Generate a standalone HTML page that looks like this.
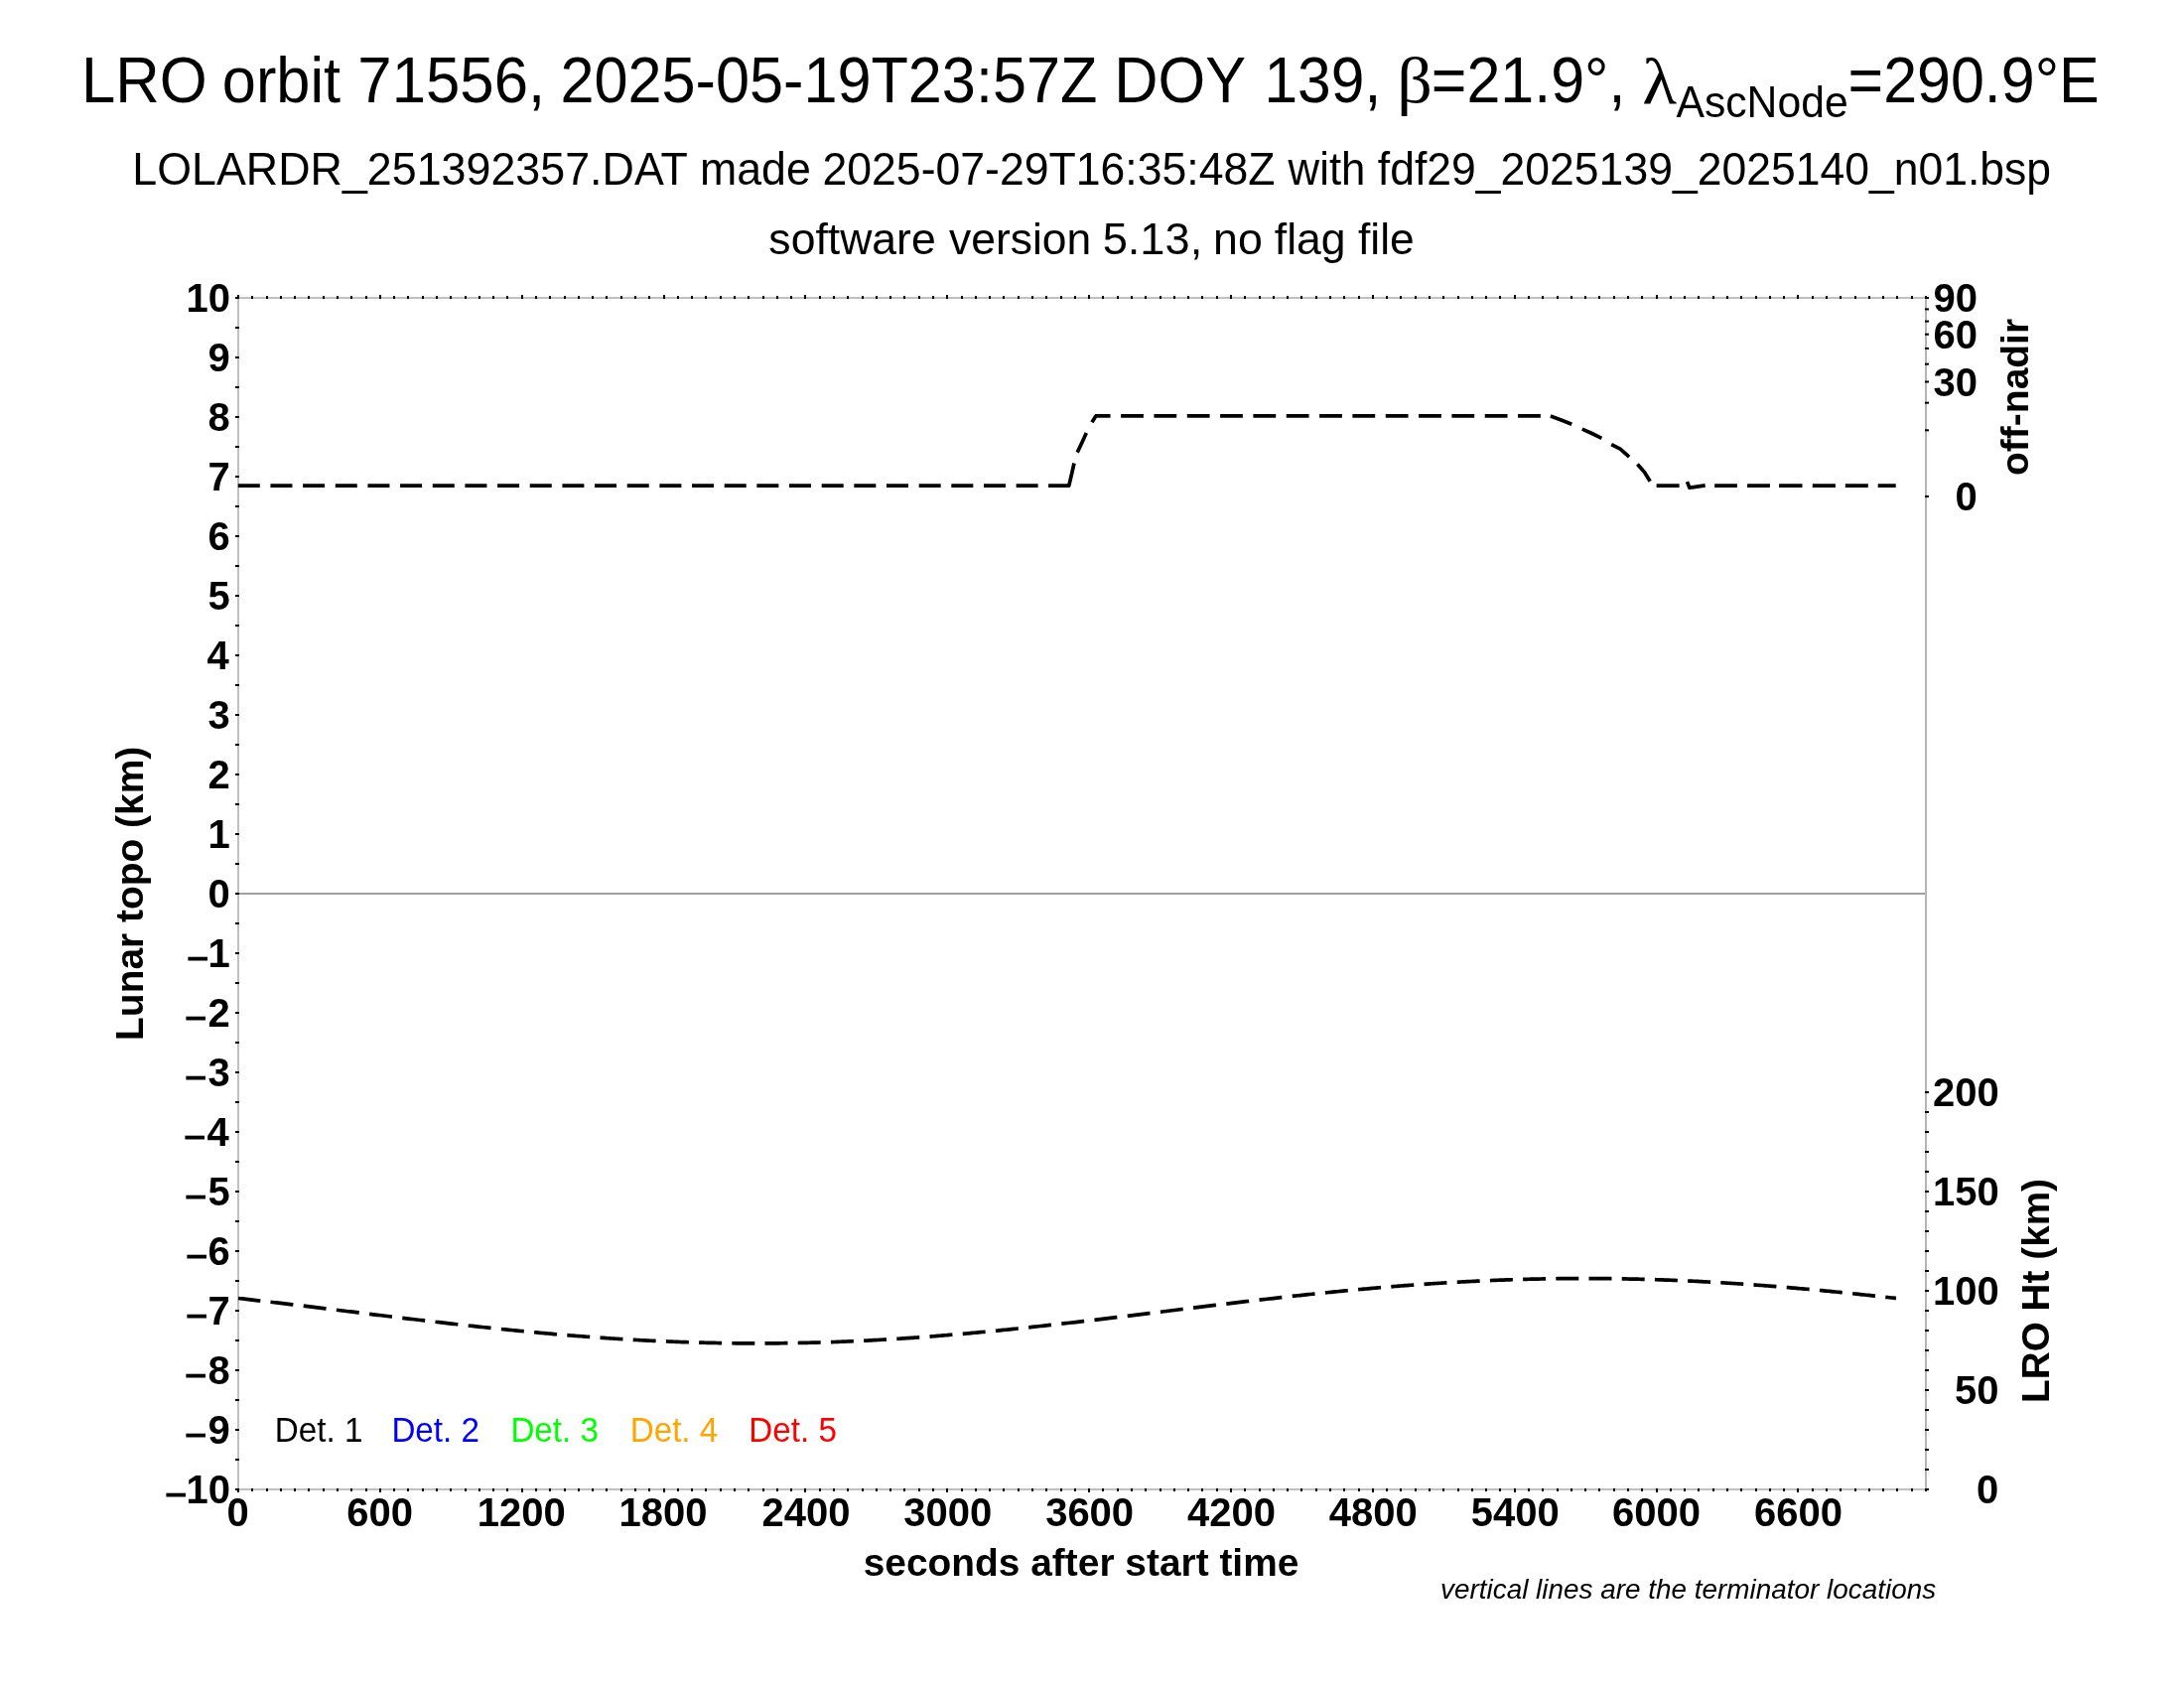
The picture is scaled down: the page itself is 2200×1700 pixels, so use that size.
<!DOCTYPE html>
<html><head><meta charset="utf-8"><style>html,body{margin:0;padding:0;background:#fff;}svg{display:block;will-change:transform;}</style></head>
<body><svg width="2200" height="1700" viewBox="0 0 2200 1700">
<rect width="2200" height="1700" fill="#fff"/>
<rect x='239' y='299' width='1701' height='2' fill='#c0c0c0'/>
<rect x='239' y='1499' width='1702' height='2' fill='#c0c0c0'/>
<rect x='239' y='299' width='2' height='1202' fill='#c0c0c0'/>
<rect x='1939' y='299' width='2' height='1202' fill='#b4b4b4'/>
<rect x='241' y='899' width='1698' height='2' fill='#a0a0a0'/>
<g fill='#000'><rect x='239' y='1499' width='2' height='4'/><rect x='239' y='297' width='2' height='4'/><rect x='253' y='1499' width='2' height='3'/><rect x='253' y='298' width='2' height='3'/><rect x='268' y='1499' width='2' height='3'/><rect x='268' y='298' width='2' height='3'/><rect x='282' y='1499' width='2' height='3'/><rect x='282' y='298' width='2' height='3'/><rect x='296' y='1499' width='2' height='3'/><rect x='296' y='298' width='2' height='3'/><rect x='310' y='1499' width='2' height='3'/><rect x='310' y='298' width='2' height='3'/><rect x='325' y='1499' width='2' height='3'/><rect x='325' y='298' width='2' height='3'/><rect x='339' y='1499' width='2' height='3'/><rect x='339' y='298' width='2' height='3'/><rect x='353' y='1499' width='2' height='3'/><rect x='353' y='298' width='2' height='3'/><rect x='368' y='1499' width='2' height='3'/><rect x='368' y='298' width='2' height='3'/><rect x='382' y='1499' width='2' height='4'/><rect x='382' y='297' width='2' height='4'/><rect x='396' y='1499' width='2' height='3'/><rect x='396' y='298' width='2' height='3'/><rect x='410' y='1499' width='2' height='3'/><rect x='410' y='298' width='2' height='3'/><rect x='425' y='1499' width='2' height='3'/><rect x='425' y='298' width='2' height='3'/><rect x='439' y='1499' width='2' height='3'/><rect x='439' y='298' width='2' height='3'/><rect x='453' y='1499' width='2' height='3'/><rect x='453' y='298' width='2' height='3'/><rect x='468' y='1499' width='2' height='3'/><rect x='468' y='298' width='2' height='3'/><rect x='482' y='1499' width='2' height='3'/><rect x='482' y='298' width='2' height='3'/><rect x='496' y='1499' width='2' height='3'/><rect x='496' y='298' width='2' height='3'/><rect x='510' y='1499' width='2' height='3'/><rect x='510' y='298' width='2' height='3'/><rect x='525' y='1499' width='2' height='4'/><rect x='525' y='297' width='2' height='4'/><rect x='539' y='1499' width='2' height='3'/><rect x='539' y='298' width='2' height='3'/><rect x='553' y='1499' width='2' height='3'/><rect x='553' y='298' width='2' height='3'/><rect x='568' y='1499' width='2' height='3'/><rect x='568' y='298' width='2' height='3'/><rect x='582' y='1499' width='2' height='3'/><rect x='582' y='298' width='2' height='3'/><rect x='596' y='1499' width='2' height='3'/><rect x='596' y='298' width='2' height='3'/><rect x='610' y='1499' width='2' height='3'/><rect x='610' y='298' width='2' height='3'/><rect x='625' y='1499' width='2' height='3'/><rect x='625' y='298' width='2' height='3'/><rect x='639' y='1499' width='2' height='3'/><rect x='639' y='298' width='2' height='3'/><rect x='653' y='1499' width='2' height='3'/><rect x='653' y='298' width='2' height='3'/><rect x='668' y='1499' width='2' height='4'/><rect x='668' y='297' width='2' height='4'/><rect x='682' y='1499' width='2' height='3'/><rect x='682' y='298' width='2' height='3'/><rect x='696' y='1499' width='2' height='3'/><rect x='696' y='298' width='2' height='3'/><rect x='710' y='1499' width='2' height='3'/><rect x='710' y='298' width='2' height='3'/><rect x='725' y='1499' width='2' height='3'/><rect x='725' y='298' width='2' height='3'/><rect x='739' y='1499' width='2' height='3'/><rect x='739' y='298' width='2' height='3'/><rect x='753' y='1499' width='2' height='3'/><rect x='753' y='298' width='2' height='3'/><rect x='768' y='1499' width='2' height='3'/><rect x='768' y='298' width='2' height='3'/><rect x='782' y='1499' width='2' height='3'/><rect x='782' y='298' width='2' height='3'/><rect x='796' y='1499' width='2' height='3'/><rect x='796' y='298' width='2' height='3'/><rect x='810' y='1499' width='2' height='4'/><rect x='810' y='297' width='2' height='4'/><rect x='825' y='1499' width='2' height='3'/><rect x='825' y='298' width='2' height='3'/><rect x='839' y='1499' width='2' height='3'/><rect x='839' y='298' width='2' height='3'/><rect x='853' y='1499' width='2' height='3'/><rect x='853' y='298' width='2' height='3'/><rect x='868' y='1499' width='2' height='3'/><rect x='868' y='298' width='2' height='3'/><rect x='882' y='1499' width='2' height='3'/><rect x='882' y='298' width='2' height='3'/><rect x='896' y='1499' width='2' height='3'/><rect x='896' y='298' width='2' height='3'/><rect x='910' y='1499' width='2' height='3'/><rect x='910' y='298' width='2' height='3'/><rect x='925' y='1499' width='2' height='3'/><rect x='925' y='298' width='2' height='3'/><rect x='939' y='1499' width='2' height='3'/><rect x='939' y='298' width='2' height='3'/><rect x='953' y='1499' width='2' height='4'/><rect x='953' y='297' width='2' height='4'/><rect x='968' y='1499' width='2' height='3'/><rect x='968' y='298' width='2' height='3'/><rect x='982' y='1499' width='2' height='3'/><rect x='982' y='298' width='2' height='3'/><rect x='996' y='1499' width='2' height='3'/><rect x='996' y='298' width='2' height='3'/><rect x='1010' y='1499' width='2' height='3'/><rect x='1010' y='298' width='2' height='3'/><rect x='1025' y='1499' width='2' height='3'/><rect x='1025' y='298' width='2' height='3'/><rect x='1039' y='1499' width='2' height='3'/><rect x='1039' y='298' width='2' height='3'/><rect x='1053' y='1499' width='2' height='3'/><rect x='1053' y='298' width='2' height='3'/><rect x='1068' y='1499' width='2' height='3'/><rect x='1068' y='298' width='2' height='3'/><rect x='1082' y='1499' width='2' height='3'/><rect x='1082' y='298' width='2' height='3'/><rect x='1096' y='1499' width='2' height='4'/><rect x='1096' y='297' width='2' height='4'/><rect x='1110' y='1499' width='2' height='3'/><rect x='1110' y='298' width='2' height='3'/><rect x='1125' y='1499' width='2' height='3'/><rect x='1125' y='298' width='2' height='3'/><rect x='1139' y='1499' width='2' height='3'/><rect x='1139' y='298' width='2' height='3'/><rect x='1153' y='1499' width='2' height='3'/><rect x='1153' y='298' width='2' height='3'/><rect x='1168' y='1499' width='2' height='3'/><rect x='1168' y='298' width='2' height='3'/><rect x='1182' y='1499' width='2' height='3'/><rect x='1182' y='298' width='2' height='3'/><rect x='1196' y='1499' width='2' height='3'/><rect x='1196' y='298' width='2' height='3'/><rect x='1210' y='1499' width='2' height='3'/><rect x='1210' y='298' width='2' height='3'/><rect x='1225' y='1499' width='2' height='3'/><rect x='1225' y='298' width='2' height='3'/><rect x='1239' y='1499' width='2' height='4'/><rect x='1239' y='297' width='2' height='4'/><rect x='1253' y='1499' width='2' height='3'/><rect x='1253' y='298' width='2' height='3'/><rect x='1268' y='1499' width='2' height='3'/><rect x='1268' y='298' width='2' height='3'/><rect x='1282' y='1499' width='2' height='3'/><rect x='1282' y='298' width='2' height='3'/><rect x='1296' y='1499' width='2' height='3'/><rect x='1296' y='298' width='2' height='3'/><rect x='1310' y='1499' width='2' height='3'/><rect x='1310' y='298' width='2' height='3'/><rect x='1325' y='1499' width='2' height='3'/><rect x='1325' y='298' width='2' height='3'/><rect x='1339' y='1499' width='2' height='3'/><rect x='1339' y='298' width='2' height='3'/><rect x='1353' y='1499' width='2' height='3'/><rect x='1353' y='298' width='2' height='3'/><rect x='1368' y='1499' width='2' height='3'/><rect x='1368' y='298' width='2' height='3'/><rect x='1382' y='1499' width='2' height='4'/><rect x='1382' y='297' width='2' height='4'/><rect x='1396' y='1499' width='2' height='3'/><rect x='1396' y='298' width='2' height='3'/><rect x='1410' y='1499' width='2' height='3'/><rect x='1410' y='298' width='2' height='3'/><rect x='1425' y='1499' width='2' height='3'/><rect x='1425' y='298' width='2' height='3'/><rect x='1439' y='1499' width='2' height='3'/><rect x='1439' y='298' width='2' height='3'/><rect x='1453' y='1499' width='2' height='3'/><rect x='1453' y='298' width='2' height='3'/><rect x='1468' y='1499' width='2' height='3'/><rect x='1468' y='298' width='2' height='3'/><rect x='1482' y='1499' width='2' height='3'/><rect x='1482' y='298' width='2' height='3'/><rect x='1496' y='1499' width='2' height='3'/><rect x='1496' y='298' width='2' height='3'/><rect x='1510' y='1499' width='2' height='3'/><rect x='1510' y='298' width='2' height='3'/><rect x='1525' y='1499' width='2' height='4'/><rect x='1525' y='297' width='2' height='4'/><rect x='1539' y='1499' width='2' height='3'/><rect x='1539' y='298' width='2' height='3'/><rect x='1553' y='1499' width='2' height='3'/><rect x='1553' y='298' width='2' height='3'/><rect x='1568' y='1499' width='2' height='3'/><rect x='1568' y='298' width='2' height='3'/><rect x='1582' y='1499' width='2' height='3'/><rect x='1582' y='298' width='2' height='3'/><rect x='1596' y='1499' width='2' height='3'/><rect x='1596' y='298' width='2' height='3'/><rect x='1610' y='1499' width='2' height='3'/><rect x='1610' y='298' width='2' height='3'/><rect x='1625' y='1499' width='2' height='3'/><rect x='1625' y='298' width='2' height='3'/><rect x='1639' y='1499' width='2' height='3'/><rect x='1639' y='298' width='2' height='3'/><rect x='1653' y='1499' width='2' height='3'/><rect x='1653' y='298' width='2' height='3'/><rect x='1668' y='1499' width='2' height='4'/><rect x='1668' y='297' width='2' height='4'/><rect x='1682' y='1499' width='2' height='3'/><rect x='1682' y='298' width='2' height='3'/><rect x='1696' y='1499' width='2' height='3'/><rect x='1696' y='298' width='2' height='3'/><rect x='1710' y='1499' width='2' height='3'/><rect x='1710' y='298' width='2' height='3'/><rect x='1725' y='1499' width='2' height='3'/><rect x='1725' y='298' width='2' height='3'/><rect x='1739' y='1499' width='2' height='3'/><rect x='1739' y='298' width='2' height='3'/><rect x='1753' y='1499' width='2' height='3'/><rect x='1753' y='298' width='2' height='3'/><rect x='1768' y='1499' width='2' height='3'/><rect x='1768' y='298' width='2' height='3'/><rect x='1782' y='1499' width='2' height='3'/><rect x='1782' y='298' width='2' height='3'/><rect x='1796' y='1499' width='2' height='3'/><rect x='1796' y='298' width='2' height='3'/><rect x='1810' y='1499' width='2' height='4'/><rect x='1810' y='297' width='2' height='4'/><rect x='1825' y='1499' width='2' height='3'/><rect x='1825' y='298' width='2' height='3'/><rect x='1839' y='1499' width='2' height='3'/><rect x='1839' y='298' width='2' height='3'/><rect x='1853' y='1499' width='2' height='3'/><rect x='1853' y='298' width='2' height='3'/><rect x='1868' y='1499' width='2' height='3'/><rect x='1868' y='298' width='2' height='3'/><rect x='1882' y='1499' width='2' height='3'/><rect x='1882' y='298' width='2' height='3'/><rect x='1896' y='1499' width='2' height='3'/><rect x='1896' y='298' width='2' height='3'/><rect x='1910' y='1499' width='2' height='3'/><rect x='1910' y='298' width='2' height='3'/><rect x='1925' y='1499' width='2' height='3'/><rect x='1925' y='298' width='2' height='3'/><rect x='1939' y='1499' width='2' height='3'/><rect x='1939' y='298' width='2' height='3'/><rect x='237' y='299' width='4' height='2'/><rect x='237' y='329' width='4' height='2'/><rect x='237' y='359' width='4' height='2'/><rect x='237' y='389' width='4' height='2'/><rect x='237' y='419' width='4' height='2'/><rect x='237' y='449' width='4' height='2'/><rect x='237' y='479' width='4' height='2'/><rect x='237' y='509' width='4' height='2'/><rect x='237' y='539' width='4' height='2'/><rect x='237' y='569' width='4' height='2'/><rect x='237' y='599' width='4' height='2'/><rect x='237' y='629' width='4' height='2'/><rect x='237' y='659' width='4' height='2'/><rect x='237' y='689' width='4' height='2'/><rect x='237' y='719' width='4' height='2'/><rect x='237' y='749' width='4' height='2'/><rect x='237' y='779' width='4' height='2'/><rect x='237' y='809' width='4' height='2'/><rect x='237' y='839' width='4' height='2'/><rect x='237' y='869' width='4' height='2'/><rect x='237' y='899' width='4' height='2'/><rect x='237' y='929' width='4' height='2'/><rect x='237' y='959' width='4' height='2'/><rect x='237' y='989' width='4' height='2'/><rect x='237' y='1019' width='4' height='2'/><rect x='237' y='1049' width='4' height='2'/><rect x='237' y='1079' width='4' height='2'/><rect x='237' y='1109' width='4' height='2'/><rect x='237' y='1139' width='4' height='2'/><rect x='237' y='1169' width='4' height='2'/><rect x='237' y='1199' width='4' height='2'/><rect x='237' y='1229' width='4' height='2'/><rect x='237' y='1259' width='4' height='2'/><rect x='237' y='1289' width='4' height='2'/><rect x='237' y='1319' width='4' height='2'/><rect x='237' y='1349' width='4' height='2'/><rect x='237' y='1379' width='4' height='2'/><rect x='237' y='1409' width='4' height='2'/><rect x='237' y='1439' width='4' height='2'/><rect x='237' y='1469' width='4' height='2'/><rect x='237' y='1499' width='4' height='2'/><rect x='1939' y='499.0' width='4' height='2'/><rect x='1939' y='432.3' width='4' height='2'/><rect x='1939' y='404.7' width='4' height='2'/><rect x='1939' y='383.5' width='4' height='2'/><rect x='1939' y='365.7' width='4' height='2'/><rect x='1939' y='349.9' width='4' height='2'/><rect x='1939' y='335.7' width='4' height='2'/><rect x='1939' y='322.6' width='4' height='2'/><rect x='1939' y='310.4' width='4' height='2'/><rect x='1939' y='299.0' width='4' height='2'/><rect x='1939' y='1499' width='4' height='2'/><rect x='1939' y='1479' width='4' height='2'/><rect x='1939' y='1459' width='4' height='2'/><rect x='1939' y='1439' width='4' height='2'/><rect x='1939' y='1419' width='4' height='2'/><rect x='1939' y='1399' width='4' height='2'/><rect x='1939' y='1379' width='4' height='2'/><rect x='1939' y='1359' width='4' height='2'/><rect x='1939' y='1339' width='4' height='2'/><rect x='1939' y='1319' width='4' height='2'/><rect x='1939' y='1299' width='4' height='2'/><rect x='1939' y='1279' width='4' height='2'/><rect x='1939' y='1259' width='4' height='2'/><rect x='1939' y='1239' width='4' height='2'/><rect x='1939' y='1219' width='4' height='2'/><rect x='1939' y='1199' width='4' height='2'/><rect x='1939' y='1179' width='4' height='2'/><rect x='1939' y='1159' width='4' height='2'/><rect x='1939' y='1139' width='4' height='2'/><rect x='1939' y='1119' width='4' height='2'/><rect x='1939' y='1099' width='4' height='2'/></g>
<path d='M239.80,489.20 L261.80,489.20 M272.46,489.20 L294.46,489.20 M305.12,489.20 L327.12,489.20 M337.78,489.20 L359.78,489.20 M370.44,489.20 L392.44,489.20 M403.10,489.20 L425.10,489.20 M435.76,489.20 L457.76,489.20 M468.42,489.20 L490.42,489.20 M501.08,489.20 L523.08,489.20 M533.74,489.20 L555.74,489.20 M566.40,489.20 L588.40,489.20 M599.06,489.20 L621.06,489.20 M631.72,489.20 L653.72,489.20 M664.38,489.20 L686.38,489.20 M697.04,489.20 L719.04,489.20 M729.70,489.20 L751.70,489.20 M762.36,489.20 L784.36,489.20 M795.02,489.20 L817.02,489.20 M827.68,489.20 L849.68,489.20 M860.34,489.20 L882.34,489.20 M893.00,489.20 L915.00,489.20 M925.66,489.20 L947.66,489.20 M958.32,489.20 L980.32,489.20 M990.98,489.20 L1012.98,489.20 M1023.64,489.20 L1045.64,489.20 M1056.10,489.20 L1076.70,489.20 L1078.00,484.00 L1082.00,466.50 M1085.20,455.60 L1090.00,445.50 L1094.30,436.10 M1099.90,425.20 L1103.90,418.90 L1118.50,418.90 M1129.10,418.90 L1151.90,418.90 M1162.43,418.90 L1185.23,418.90 M1195.76,418.90 L1218.56,418.90 M1229.09,418.90 L1251.89,418.90 M1262.42,418.90 L1285.22,418.90 M1295.75,418.90 L1318.55,418.90 M1329.08,418.90 L1351.88,418.90 M1362.41,418.90 L1385.21,418.90 M1395.74,418.90 L1418.54,418.90 M1429.07,418.90 L1451.87,418.90 M1462.40,418.90 L1485.20,418.90 M1495.73,418.90 L1518.53,418.90 M1529.06,418.90 L1551.86,418.90 M1561.90,418.90 L1573.20,423.20 L1583.30,427.30 M1593.80,432.10 L1603.60,436.50 L1613.40,441.30 M1623.20,447.60 L1632.10,452.20 L1641.10,460.10 M1649.40,467.50 L1656.50,475.50 L1662.20,484.80 M1668.60,489.10 L1691.60,489.10 M1727.20,489.10 L1749.90,489.10 M1760.10,489.10 L1782.90,489.10 M1792.10,489.10 L1815.50,489.10 M1825.80,489.10 L1848.90,489.10 M1858.80,489.10 L1881.80,489.10 M1891.70,489.10 L1909.70,489.10 M1699.50,485.20 L1701.80,491.20 L1706.00,490.60 L1717.70,488.90 M240.00,1307.50 L242.00,1307.73 L244.00,1307.96 L246.00,1308.18 L248.00,1308.41 L250.00,1308.64 L252.00,1308.87 L254.00,1309.10 L256.00,1309.33 L258.00,1309.56 L260.00,1309.79 L262.00,1310.02 L262.35,1310.06 M272.50,1311.25 L274.50,1311.48 L276.50,1311.72 L278.50,1311.95 L280.50,1312.19 L282.50,1312.43 L284.50,1312.66 L286.50,1312.90 L288.50,1313.14 L290.50,1313.38 L292.50,1313.62 L294.50,1313.86 L295.34,1313.96 M305.70,1315.21 L307.70,1315.45 L309.70,1315.69 L311.70,1315.93 L313.70,1316.18 L315.70,1316.42 L317.70,1316.66 L319.70,1316.90 L321.70,1317.15 L323.70,1317.39 L325.70,1317.64 L327.70,1317.88 L328.53,1317.98 M338.90,1319.25 L340.90,1319.49 L342.90,1319.74 L344.90,1319.98 L346.90,1320.23 L348.90,1320.47 L350.90,1320.72 L352.90,1320.96 L354.90,1321.21 L356.90,1321.45 L358.90,1321.70 L360.90,1321.94 L361.73,1322.05 M372.10,1323.31 L374.10,1323.56 L376.10,1323.80 L378.10,1324.04 L380.10,1324.29 L382.10,1324.53 L384.10,1324.77 L386.10,1325.02 L388.10,1325.26 L390.10,1325.50 L392.10,1325.74 L394.10,1325.99 L394.93,1326.09 M405.30,1327.33 L407.30,1327.57 L409.30,1327.81 L411.30,1328.05 L413.30,1328.29 L415.30,1328.53 L417.30,1328.76 L419.30,1329.00 L421.30,1329.24 L423.30,1329.47 L425.30,1329.71 L427.30,1329.94 L428.14,1330.04 M438.50,1331.25 L440.50,1331.48 L442.50,1331.71 L444.50,1331.94 L446.50,1332.17 L448.50,1332.40 L450.50,1332.63 L452.50,1332.85 L454.50,1333.08 L456.50,1333.30 L458.50,1333.53 L460.50,1333.75 L461.35,1333.85 M471.70,1335.00 L473.70,1335.22 L475.70,1335.43 L477.70,1335.65 L479.70,1335.87 L481.70,1336.08 L483.70,1336.30 L485.70,1336.51 L487.70,1336.73 L489.70,1336.94 L491.70,1337.15 L493.70,1337.36 L494.57,1337.45 M504.90,1338.52 L506.90,1338.72 L508.90,1338.92 L510.90,1339.13 L512.90,1339.33 L514.90,1339.53 L516.90,1339.72 L518.90,1339.92 L520.90,1340.12 L522.90,1340.31 L524.90,1340.51 L526.90,1340.70 L527.79,1340.79 M538.10,1341.76 L540.10,1341.94 L542.10,1342.13 L544.10,1342.31 L546.10,1342.49 L548.10,1342.67 L550.10,1342.85 L552.10,1343.03 L554.10,1343.20 L556.10,1343.38 L558.10,1343.55 L560.10,1343.72 L561.01,1343.80 M571.30,1344.66 L573.30,1344.83 L575.30,1344.99 L577.30,1345.15 L579.30,1345.31 L581.30,1345.47 L583.30,1345.62 L585.30,1345.78 L587.30,1345.93 L589.30,1346.08 L591.30,1346.23 L593.30,1346.38 L594.23,1346.45 M604.50,1347.19 L606.50,1347.33 L608.50,1347.46 L610.50,1347.60 L612.50,1347.73 L614.50,1347.87 L616.50,1348.00 L618.50,1348.13 L620.50,1348.26 L622.50,1348.38 L624.50,1348.51 L626.50,1348.63 L627.45,1348.69 M637.70,1349.29 L639.70,1349.40 L641.70,1349.51 L643.70,1349.62 L645.70,1349.73 L647.70,1349.83 L649.70,1349.94 L651.70,1350.04 L653.70,1350.14 L655.70,1350.24 L657.70,1350.34 L659.70,1350.43 L660.67,1350.48 M670.90,1350.93 L672.90,1351.02 L674.90,1351.10 L676.90,1351.18 L678.90,1351.26 L680.90,1351.34 L682.90,1351.41 L684.90,1351.48 L686.90,1351.55 L688.90,1351.62 L690.90,1351.69 L692.90,1351.76 L693.88,1351.79 M704.10,1352.09 L706.10,1352.15 L708.10,1352.20 L710.10,1352.25 L712.10,1352.30 L714.10,1352.35 L716.10,1352.39 L718.10,1352.43 L720.10,1352.47 L722.10,1352.51 L724.10,1352.55 L726.10,1352.59 L727.09,1352.60 M737.30,1352.75 L739.30,1352.77 L741.30,1352.79 L743.30,1352.81 L745.30,1352.83 L747.30,1352.85 L749.30,1352.86 L751.30,1352.87 L753.30,1352.88 L755.30,1352.89 L757.30,1352.90 L759.30,1352.90 L760.30,1352.90 M770.50,1352.89 L772.50,1352.88 L774.50,1352.87 L776.50,1352.86 L778.50,1352.85 L780.50,1352.83 L782.50,1352.81 L784.50,1352.79 L786.50,1352.77 L788.50,1352.75 L790.50,1352.72 L792.50,1352.70 L793.50,1352.68 M803.70,1352.51 L805.70,1352.47 L807.70,1352.43 L809.70,1352.39 L811.70,1352.34 L813.70,1352.30 L815.70,1352.25 L817.70,1352.20 L819.70,1352.14 L821.70,1352.09 L823.70,1352.03 L825.70,1351.98 L826.69,1351.95 M836.90,1351.62 L838.90,1351.55 L840.90,1351.48 L842.90,1351.40 L844.90,1351.33 L846.90,1351.25 L848.90,1351.17 L850.90,1351.09 L852.90,1351.01 L854.90,1350.92 L856.90,1350.84 L858.90,1350.75 L859.88,1350.71 M870.10,1350.23 L872.10,1350.13 L874.10,1350.03 L876.10,1349.92 L878.10,1349.82 L880.10,1349.71 L882.10,1349.61 L884.10,1349.50 L886.10,1349.39 L888.10,1349.27 L890.10,1349.16 L892.10,1349.04 L893.07,1348.98 M903.30,1348.36 L905.30,1348.23 L907.30,1348.10 L909.30,1347.97 L911.30,1347.84 L913.30,1347.71 L915.30,1347.57 L917.30,1347.44 L919.30,1347.30 L921.30,1347.16 L923.30,1347.02 L925.30,1346.87 L926.25,1346.81 M936.50,1346.05 L938.50,1345.89 L940.50,1345.74 L942.50,1345.58 L944.50,1345.42 L946.50,1345.27 L948.50,1345.11 L950.50,1344.94 L952.50,1344.78 L954.50,1344.62 L956.50,1344.45 L958.50,1344.28 L959.43,1344.21 M969.70,1343.32 L971.70,1343.15 L973.70,1342.97 L975.70,1342.79 L977.70,1342.61 L979.70,1342.43 L981.70,1342.24 L983.70,1342.06 L985.70,1341.88 L987.70,1341.69 L989.70,1341.50 L991.70,1341.31 L992.60,1341.23 M1002.90,1340.23 L1004.90,1340.04 L1006.90,1339.84 L1008.90,1339.64 L1010.90,1339.44 L1012.90,1339.24 L1014.90,1339.04 L1016.90,1338.83 L1018.90,1338.63 L1020.90,1338.42 L1022.90,1338.22 L1024.90,1338.01 L1025.78,1337.92 M1036.10,1336.83 L1038.10,1336.62 L1040.10,1336.40 L1042.10,1336.18 L1044.10,1335.97 L1046.10,1335.75 L1048.10,1335.53 L1050.10,1335.31 L1052.10,1335.09 L1054.10,1334.87 L1056.10,1334.65 L1058.10,1334.43 L1058.96,1334.33 M1069.30,1333.17 L1071.30,1332.94 L1073.30,1332.71 L1075.30,1332.48 L1077.30,1332.25 L1079.30,1332.02 L1081.30,1331.79 L1083.30,1331.56 L1085.30,1331.32 L1087.30,1331.09 L1089.30,1330.86 L1091.30,1330.62 L1092.15,1330.52 M1102.50,1329.30 L1104.50,1329.06 L1106.50,1328.82 L1108.50,1328.59 L1110.50,1328.35 L1112.50,1328.11 L1114.50,1327.87 L1116.50,1327.63 L1118.50,1327.38 L1120.50,1327.14 L1122.50,1326.90 L1124.50,1326.66 L1125.34,1326.56 M1135.70,1325.30 L1137.70,1325.05 L1139.70,1324.81 L1141.70,1324.56 L1143.70,1324.32 L1145.70,1324.07 L1147.70,1323.83 L1149.70,1323.58 L1151.70,1323.34 L1153.70,1323.09 L1155.70,1322.84 L1157.70,1322.60 L1158.53,1322.50 M1168.90,1321.22 L1170.90,1320.97 L1172.90,1320.72 L1174.90,1320.48 L1176.90,1320.23 L1178.90,1319.98 L1180.90,1319.74 L1182.90,1319.49 L1184.90,1319.24 L1186.90,1319.00 L1188.90,1318.75 L1190.90,1318.50 L1191.73,1318.40 M1202.10,1317.13 L1204.10,1316.88 L1206.10,1316.64 L1208.10,1316.39 L1210.10,1316.15 L1212.10,1315.90 L1214.10,1315.66 L1216.10,1315.41 L1218.10,1315.17 L1220.10,1314.93 L1222.10,1314.68 L1224.10,1314.44 L1224.93,1314.34 M1235.30,1313.09 L1237.30,1312.85 L1239.30,1312.61 L1241.30,1312.37 L1243.30,1312.13 L1245.30,1311.89 L1247.30,1311.66 L1249.30,1311.42 L1251.30,1311.18 L1253.30,1310.95 L1255.30,1310.71 L1257.30,1310.48 L1258.14,1310.38 M1268.50,1309.17 L1270.50,1308.94 L1272.50,1308.71 L1274.50,1308.48 L1276.50,1308.25 L1278.50,1308.02 L1280.50,1307.79 L1282.50,1307.57 L1284.50,1307.34 L1286.50,1307.11 L1288.50,1306.89 L1290.50,1306.67 L1291.35,1306.57 M1301.70,1305.43 L1303.70,1305.21 L1305.70,1304.99 L1307.70,1304.77 L1309.70,1304.56 L1311.70,1304.34 L1313.70,1304.13 L1315.70,1303.92 L1317.70,1303.70 L1319.70,1303.49 L1321.70,1303.28 L1323.70,1303.07 L1324.57,1302.98 M1334.90,1301.92 L1336.90,1301.72 L1338.90,1301.51 L1340.90,1301.31 L1342.90,1301.11 L1344.90,1300.92 L1346.90,1300.72 L1348.90,1300.52 L1350.90,1300.33 L1352.90,1300.13 L1354.90,1299.94 L1356.90,1299.75 L1357.79,1299.66 M1368.10,1298.70 L1370.10,1298.52 L1372.10,1298.33 L1374.10,1298.15 L1376.10,1297.97 L1378.10,1297.79 L1380.10,1297.62 L1382.10,1297.44 L1384.10,1297.26 L1386.10,1297.09 L1388.10,1296.92 L1390.10,1296.75 L1391.01,1296.67 M1401.30,1295.82 L1403.30,1295.65 L1405.30,1295.49 L1407.30,1295.33 L1409.30,1295.18 L1411.30,1295.02 L1413.30,1294.87 L1415.30,1294.71 L1417.30,1294.56 L1419.30,1294.41 L1421.30,1294.26 L1423.30,1294.11 L1424.23,1294.04 M1434.50,1293.31 L1436.50,1293.18 L1438.50,1293.04 L1440.50,1292.90 L1442.50,1292.77 L1444.50,1292.64 L1446.50,1292.51 L1448.50,1292.38 L1450.50,1292.25 L1452.50,1292.13 L1454.50,1292.00 L1456.50,1291.88 L1457.45,1291.82 M1467.70,1291.23 L1469.70,1291.12 L1471.70,1291.01 L1473.70,1290.90 L1475.70,1290.79 L1477.70,1290.69 L1479.70,1290.58 L1481.70,1290.48 L1483.70,1290.38 L1485.70,1290.28 L1487.70,1290.19 L1489.70,1290.09 L1490.67,1290.05 M1500.90,1289.59 L1502.90,1289.51 L1504.90,1289.42 L1506.90,1289.34 L1508.90,1289.26 L1510.90,1289.19 L1512.90,1289.11 L1514.90,1289.04 L1516.90,1288.97 L1518.90,1288.90 L1520.90,1288.83 L1522.90,1288.76 L1523.88,1288.73 M1534.10,1288.42 L1536.10,1288.37 L1538.10,1288.32 L1540.10,1288.26 L1542.10,1288.22 L1544.10,1288.17 L1546.10,1288.12 L1548.10,1288.08 L1550.10,1288.04 L1552.10,1287.99 L1554.10,1287.96 L1556.10,1287.92 L1557.09,1287.90 M1567.30,1287.75 L1569.30,1287.72 L1571.30,1287.70 L1573.30,1287.68 L1575.30,1287.66 L1577.30,1287.64 L1579.30,1287.62 L1581.30,1287.61 L1583.30,1287.60 L1585.30,1287.59 L1587.30,1287.58 L1589.30,1287.57 L1590.30,1287.57 M1600.50,1287.56 L1602.50,1287.57 L1604.50,1287.58 L1606.50,1287.59 L1608.50,1287.60 L1610.50,1287.61 L1612.50,1287.62 L1614.50,1287.64 L1616.50,1287.66 L1618.50,1287.68 L1620.50,1287.70 L1622.50,1287.72 L1623.50,1287.73 M1633.70,1287.88 L1635.70,1287.92 L1637.70,1287.96 L1639.70,1287.99 L1641.70,1288.03 L1643.70,1288.08 L1645.70,1288.12 L1647.70,1288.17 L1649.70,1288.21 L1651.70,1288.26 L1653.70,1288.31 L1655.70,1288.37 L1656.69,1288.39 M1666.90,1288.70 L1668.90,1288.76 L1670.90,1288.83 L1672.90,1288.89 L1674.90,1288.96 L1676.90,1289.04 L1678.90,1289.11 L1680.90,1289.18 L1682.90,1289.26 L1684.90,1289.34 L1686.90,1289.42 L1688.90,1289.50 L1689.88,1289.54 M1700.10,1289.99 L1702.10,1290.08 L1704.10,1290.18 L1706.10,1290.27 L1708.10,1290.37 L1710.10,1290.47 L1712.10,1290.57 L1714.10,1290.68 L1716.10,1290.78 L1718.10,1290.89 L1720.10,1290.99 L1722.10,1291.10 L1723.07,1291.16 M1733.30,1291.75 L1735.30,1291.87 L1737.30,1291.99 L1739.30,1292.11 L1741.30,1292.23 L1743.30,1292.36 L1745.30,1292.49 L1747.30,1292.62 L1749.30,1292.75 L1751.30,1292.88 L1753.30,1293.02 L1755.30,1293.15 L1756.25,1293.22 M1766.50,1293.94 L1768.50,1294.08 L1770.50,1294.23 L1772.50,1294.38 L1774.50,1294.53 L1776.50,1294.68 L1778.50,1294.83 L1780.50,1294.98 L1782.50,1295.14 L1784.50,1295.30 L1786.50,1295.45 L1788.50,1295.61 L1789.43,1295.69 M1799.70,1296.53 L1801.70,1296.70 L1803.70,1296.87 L1805.70,1297.04 L1807.70,1297.21 L1809.70,1297.38 L1811.70,1297.56 L1813.70,1297.74 L1815.70,1297.91 L1817.70,1298.09 L1819.70,1298.27 L1821.70,1298.45 L1822.61,1298.54 M1832.90,1299.49 L1834.90,1299.68 L1836.90,1299.87 L1838.90,1300.06 L1840.90,1300.25 L1842.90,1300.44 L1844.90,1300.64 L1846.90,1300.83 L1848.90,1301.03 L1850.90,1301.23 L1852.90,1301.43 L1854.90,1301.63 L1855.79,1301.72 M1866.10,1302.76 L1868.10,1302.97 L1870.10,1303.18 L1872.10,1303.39 L1874.10,1303.60 L1876.10,1303.81 L1878.10,1304.02 L1880.10,1304.23 L1882.10,1304.44 L1884.10,1304.66 L1886.10,1304.87 L1888.10,1305.09 L1888.97,1305.18 M1899.30,1306.31 L1901.30,1306.53 L1903.30,1306.76 L1905.30,1306.98 L1907.30,1307.20 L1909.30,1307.43 L1910.00,1307.50' fill='none' stroke='#000' stroke-width='3.7' stroke-linecap='butt' stroke-linejoin='round'/>
<text transform='translate(81.98,103.30) scale(0.9634,1.0000)' font-family='Liberation Sans' font-size='64' font-weight='normal' font-style='normal' fill='#000' xml:space='preserve'>LRO</text>
<text transform='translate(223.83,103.30) scale(0.9579,1.0000)' font-family='Liberation Sans' font-size='64' font-weight='normal' font-style='normal' fill='#000' xml:space='preserve'>orbit</text>
<text transform='translate(360.31,103.30) scale(0.9647,1.0000)' font-family='Liberation Sans' font-size='64' font-weight='normal' font-style='normal' fill='#000' xml:space='preserve'>71556,</text>
<text transform='translate(564.43,103.30) scale(0.9563,1.0000)' font-family='Liberation Sans' font-size='64' font-weight='normal' font-style='normal' fill='#000' xml:space='preserve'>2025-05-19T23:57Z</text>
<text transform='translate(1122.31,103.30) scale(0.9576,1.0000)' font-family='Liberation Sans' font-size='64' font-weight='normal' font-style='normal' fill='#000' xml:space='preserve'>DOY</text>
<text transform='translate(1273.47,103.30) scale(0.9456,1.0000)' font-family='Liberation Sans' font-size='64' font-weight='normal' font-style='normal' fill='#000' xml:space='preserve'>139,</text>
<text transform='translate(1407.33,102.78) scale(1.0923,1.0085)' font-family='Liberation Serif' font-size='64' font-weight='normal' font-style='normal' fill='#000' xml:space='preserve'>β</text>
<text transform='translate(1441.84,103.30) scale(0.9528,1.0000)' font-family='Liberation Sans' font-size='64' font-weight='normal' font-style='normal' fill='#000' xml:space='preserve'>=21.9°,</text>
<text transform='translate(1654.26,103.50) scale(1.1207,1.0178)' font-family='Liberation Serif' font-size='64' font-weight='normal' font-style='normal' fill='#000' xml:space='preserve'>λ</text>
<text transform='translate(1688.50,117.80) scale(0.9701,1.0000)' font-family='Liberation Sans' font-size='44' font-weight='normal' font-style='normal' fill='#000' xml:space='preserve'>AscNode</text>
<text transform='translate(1861.54,103.30) scale(0.9523,1.0000)' font-family='Liberation Sans' font-size='64' font-weight='normal' font-style='normal' fill='#000' xml:space='preserve'>=290.9°E</text>
<text transform='translate(133.30,186.00) scale(0.9742,1.0156)' font-family='Liberation Sans' font-size='46' font-weight='normal' font-style='normal' fill='#000' xml:space='preserve'>LOLARDR_251392357.DAT</text>
<text transform='translate(705.09,186.00) scale(0.9709,1.0156)' font-family='Liberation Sans' font-size='46' font-weight='normal' font-style='normal' fill='#000' xml:space='preserve'>made</text>
<text transform='translate(828.46,186.00) scale(0.9692,1.0156)' font-family='Liberation Sans' font-size='46' font-weight='normal' font-style='normal' fill='#000' xml:space='preserve'>2025-07-29T16:35:48Z</text>
<text transform='translate(1297.60,186.00) scale(0.9506,1.0156)' font-family='Liberation Sans' font-size='46' font-weight='normal' font-style='normal' fill='#000' xml:space='preserve'>with</text>
<text transform='translate(1387.83,186.00) scale(0.9679,1.0156)' font-family='Liberation Sans' font-size='46' font-weight='normal' font-style='normal' fill='#000' xml:space='preserve'>fdf29_2025139_2025140_n01.bsp</text>
<text transform='translate(774.36,255.80) scale(0.9682,0.9559)' font-family='Liberation Sans' font-size='46' font-weight='normal' font-style='normal' fill='#000' xml:space='preserve'>software</text>
<text transform='translate(956.10,255.80) scale(0.9648,0.9559)' font-family='Liberation Sans' font-size='46' font-weight='normal' font-style='normal' fill='#000' xml:space='preserve'>version</text>
<text transform='translate(1110.63,255.80) scale(0.9833,0.9559)' font-family='Liberation Sans' font-size='46' font-weight='normal' font-style='normal' fill='#000' xml:space='preserve'>5.13,</text>
<text transform='translate(1222.08,255.80) scale(0.9717,0.9559)' font-family='Liberation Sans' font-size='46' font-weight='normal' font-style='normal' fill='#000' xml:space='preserve'>no</text>
<text transform='translate(1283.83,255.80) scale(0.9686,0.9559)' font-family='Liberation Sans' font-size='46' font-weight='normal' font-style='normal' fill='#000' xml:space='preserve'>flag</text>
<text transform='translate(1368.04,255.80) scale(0.9643,0.9559)' font-family='Liberation Sans' font-size='46' font-weight='normal' font-style='normal' fill='#000' xml:space='preserve'>file</text>
<text transform='translate(187.40,314.20) scale(1.0000,1.0000)' font-family='Liberation Sans' font-size='40' font-weight='bold' font-style='normal' fill='#000' xml:space='preserve'>10</text>
<text transform='translate(209.40,374.20) scale(1.0000,1.0000)' font-family='Liberation Sans' font-size='40' font-weight='bold' font-style='normal' fill='#000' xml:space='preserve'>9</text>
<text transform='translate(209.40,434.20) scale(1.0000,1.0000)' font-family='Liberation Sans' font-size='40' font-weight='bold' font-style='normal' fill='#000' xml:space='preserve'>8</text>
<text transform='translate(209.40,494.20) scale(1.0000,1.0000)' font-family='Liberation Sans' font-size='40' font-weight='bold' font-style='normal' fill='#000' xml:space='preserve'>7</text>
<text transform='translate(209.40,554.20) scale(1.0000,1.0000)' font-family='Liberation Sans' font-size='40' font-weight='bold' font-style='normal' fill='#000' xml:space='preserve'>6</text>
<text transform='translate(209.40,614.20) scale(1.0000,1.0000)' font-family='Liberation Sans' font-size='40' font-weight='bold' font-style='normal' fill='#000' xml:space='preserve'>5</text>
<text transform='translate(208.40,674.20) scale(1.0000,1.0000)' font-family='Liberation Sans' font-size='40' font-weight='bold' font-style='normal' fill='#000' xml:space='preserve'>4</text>
<text transform='translate(209.40,734.20) scale(1.0000,1.0000)' font-family='Liberation Sans' font-size='40' font-weight='bold' font-style='normal' fill='#000' xml:space='preserve'>3</text>
<text transform='translate(209.40,794.20) scale(1.0000,1.0000)' font-family='Liberation Sans' font-size='40' font-weight='bold' font-style='normal' fill='#000' xml:space='preserve'>2</text>
<text transform='translate(209.40,854.20) scale(1.0000,1.0000)' font-family='Liberation Sans' font-size='40' font-weight='bold' font-style='normal' fill='#000' xml:space='preserve'>1</text>
<text transform='translate(209.40,914.20) scale(1.0000,1.0000)' font-family='Liberation Sans' font-size='40' font-weight='bold' font-style='normal' fill='#000' xml:space='preserve'>0</text>
<text transform='translate(209.40,974.20) scale(1.0000,1.0000)' font-family='Liberation Sans' font-size='40' font-weight='bold' font-style='normal' fill='#000' xml:space='preserve'>1</text>
<rect x='189.40' y='963.70' width='19.6' height='3.8' fill='#000'/>
<text transform='translate(209.40,1034.20) scale(1.0000,1.0000)' font-family='Liberation Sans' font-size='40' font-weight='bold' font-style='normal' fill='#000' xml:space='preserve'>2</text>
<rect x='187.40' y='1023.70' width='19.6' height='3.8' fill='#000'/>
<text transform='translate(209.40,1094.20) scale(1.0000,1.0000)' font-family='Liberation Sans' font-size='40' font-weight='bold' font-style='normal' fill='#000' xml:space='preserve'>3</text>
<rect x='187.40' y='1083.70' width='19.6' height='3.8' fill='#000'/>
<text transform='translate(208.40,1154.20) scale(1.0000,1.0000)' font-family='Liberation Sans' font-size='40' font-weight='bold' font-style='normal' fill='#000' xml:space='preserve'>4</text>
<rect x='186.40' y='1143.70' width='19.6' height='3.8' fill='#000'/>
<text transform='translate(209.40,1214.20) scale(1.0000,1.0000)' font-family='Liberation Sans' font-size='40' font-weight='bold' font-style='normal' fill='#000' xml:space='preserve'>5</text>
<rect x='187.40' y='1203.70' width='19.6' height='3.8' fill='#000'/>
<text transform='translate(209.40,1274.20) scale(1.0000,1.0000)' font-family='Liberation Sans' font-size='40' font-weight='bold' font-style='normal' fill='#000' xml:space='preserve'>6</text>
<rect x='188.40' y='1263.70' width='19.6' height='3.8' fill='#000'/>
<text transform='translate(209.40,1334.20) scale(1.0000,1.0000)' font-family='Liberation Sans' font-size='40' font-weight='bold' font-style='normal' fill='#000' xml:space='preserve'>7</text>
<rect x='188.40' y='1323.70' width='19.6' height='3.8' fill='#000'/>
<text transform='translate(209.40,1394.20) scale(1.0000,1.0000)' font-family='Liberation Sans' font-size='40' font-weight='bold' font-style='normal' fill='#000' xml:space='preserve'>8</text>
<rect x='187.40' y='1383.70' width='19.6' height='3.8' fill='#000'/>
<text transform='translate(209.40,1454.20) scale(1.0000,1.0000)' font-family='Liberation Sans' font-size='40' font-weight='bold' font-style='normal' fill='#000' xml:space='preserve'>9</text>
<rect x='187.40' y='1443.70' width='19.6' height='3.8' fill='#000'/>
<text transform='translate(187.40,1514.20) scale(1.0000,1.0000)' font-family='Liberation Sans' font-size='40' font-weight='bold' font-style='normal' fill='#000' xml:space='preserve'>10</text>
<rect x='167.40' y='1503.70' width='19.6' height='3.8' fill='#000'/>
<text transform='translate(228.50,1536.50) scale(1.0000,1.0000)' font-family='Liberation Sans' font-size='40' font-weight='bold' font-style='normal' fill='#000' xml:space='preserve'>0</text>
<text transform='translate(349.35,1536.50) scale(1.0000,1.0000)' font-family='Liberation Sans' font-size='40' font-weight='bold' font-style='normal' fill='#000' xml:space='preserve'>600</text>
<text transform='translate(480.71,1536.50) scale(1.0000,1.0000)' font-family='Liberation Sans' font-size='40' font-weight='bold' font-style='normal' fill='#000' xml:space='preserve'>1200</text>
<text transform='translate(623.56,1536.50) scale(1.0000,1.0000)' font-family='Liberation Sans' font-size='40' font-weight='bold' font-style='normal' fill='#000' xml:space='preserve'>1800</text>
<text transform='translate(767.42,1536.50) scale(1.0000,1.0000)' font-family='Liberation Sans' font-size='40' font-weight='bold' font-style='normal' fill='#000' xml:space='preserve'>2400</text>
<text transform='translate(910.27,1536.50) scale(1.0000,1.0000)' font-family='Liberation Sans' font-size='40' font-weight='bold' font-style='normal' fill='#000' xml:space='preserve'>3000</text>
<text transform='translate(1053.13,1536.50) scale(1.0000,1.0000)' font-family='Liberation Sans' font-size='40' font-weight='bold' font-style='normal' fill='#000' xml:space='preserve'>3600</text>
<text transform='translate(1195.98,1536.50) scale(1.0000,1.0000)' font-family='Liberation Sans' font-size='40' font-weight='bold' font-style='normal' fill='#000' xml:space='preserve'>4200</text>
<text transform='translate(1338.84,1536.50) scale(1.0000,1.0000)' font-family='Liberation Sans' font-size='40' font-weight='bold' font-style='normal' fill='#000' xml:space='preserve'>4800</text>
<text transform='translate(1481.69,1536.50) scale(1.0000,1.0000)' font-family='Liberation Sans' font-size='40' font-weight='bold' font-style='normal' fill='#000' xml:space='preserve'>5400</text>
<text transform='translate(1624.05,1536.50) scale(1.0000,1.0000)' font-family='Liberation Sans' font-size='40' font-weight='bold' font-style='normal' fill='#000' xml:space='preserve'>6000</text>
<text transform='translate(1766.90,1536.50) scale(1.0000,1.0000)' font-family='Liberation Sans' font-size='40' font-weight='bold' font-style='normal' fill='#000' xml:space='preserve'>6600</text>
<text transform='translate(1947.50,314.20) scale(1.0000,1.0000)' font-family='Liberation Sans' font-size='40' font-weight='bold' font-style='normal' fill='#000' xml:space='preserve'>90</text>
<text transform='translate(1947.50,350.90) scale(1.0000,1.0000)' font-family='Liberation Sans' font-size='40' font-weight='bold' font-style='normal' fill='#000' xml:space='preserve'>60</text>
<text transform='translate(1947.50,398.70) scale(1.0000,1.0000)' font-family='Liberation Sans' font-size='40' font-weight='bold' font-style='normal' fill='#000' xml:space='preserve'>30</text>
<text transform='translate(1969.50,514.20) scale(1.0000,1.0000)' font-family='Liberation Sans' font-size='40' font-weight='bold' font-style='normal' fill='#000' xml:space='preserve'>0</text>
<text transform='translate(1947.10,1114.20) scale(1.0000,1.0000)' font-family='Liberation Sans' font-size='40' font-weight='bold' font-style='normal' fill='#000' xml:space='preserve'>200</text>
<text transform='translate(1947.10,1214.20) scale(1.0000,1.0000)' font-family='Liberation Sans' font-size='40' font-weight='bold' font-style='normal' fill='#000' xml:space='preserve'>150</text>
<text transform='translate(1947.10,1314.20) scale(1.0000,1.0000)' font-family='Liberation Sans' font-size='40' font-weight='bold' font-style='normal' fill='#000' xml:space='preserve'>100</text>
<text transform='translate(1969.10,1414.20) scale(1.0000,1.0000)' font-family='Liberation Sans' font-size='40' font-weight='bold' font-style='normal' fill='#000' xml:space='preserve'>50</text>
<text transform='translate(1991.10,1514.20) scale(1.0000,1.0000)' font-family='Liberation Sans' font-size='40' font-weight='bold' font-style='normal' fill='#000' xml:space='preserve'>0</text>
<text transform='translate(869.71,1586.90) scale(0.9970,1.0000)' font-family='Liberation Sans' font-size='39' font-weight='bold' font-style='normal' fill='#000' xml:space='preserve'>seconds after start time</text>
<text transform='translate(1451.01,1609.80) scale(0.9968,1.0000)' font-family='Liberation Sans' font-size='28' font-weight='normal' font-style='italic' fill='#000' xml:space='preserve'>vertical lines are the terminator locations</text>
<text transform='translate(144.42,1047.92) rotate(-90) scale(0.9732,0.9474)' font-family='Liberation Sans' font-size='40' font-weight='bold' xml:space='preserve'>Lunar topo (km)</text>
<text transform='translate(2042.50,478.95) rotate(-90) scale(0.9750,0.9600)' font-family='Liberation Sans' font-size='40' font-weight='bold' xml:space='preserve'>off-nadir</text>
<text transform='translate(2064.26,1412.91) rotate(-90) scale(0.9684,0.9553)' font-family='Liberation Sans' font-size='40' font-weight='bold' xml:space='preserve'>LRO Ht (km)</text>
<text transform='translate(276.78,1452) scale(1.0071,1.0522)' font-family='Liberation Sans' font-size='33' fill='#000'>Det. 1</text>
<text transform='translate(394.38,1452) scale(1.0071,1.0522)' font-family='Liberation Sans' font-size='33' fill='#0000ff'>Det. 2</text>
<text transform='translate(514.38,1452) scale(1.0071,1.0522)' font-family='Liberation Sans' font-size='33' fill='#00ff00'>Det. 3</text>
<text transform='translate(634.68,1452) scale(1.0071,1.0522)' font-family='Liberation Sans' font-size='33' fill='#ffa500'>Det. 4</text>
<text transform='translate(754.28,1452) scale(1.0071,1.0522)' font-family='Liberation Sans' font-size='33' fill='#ff0000'>Det. 5</text>
</svg></body></html>
